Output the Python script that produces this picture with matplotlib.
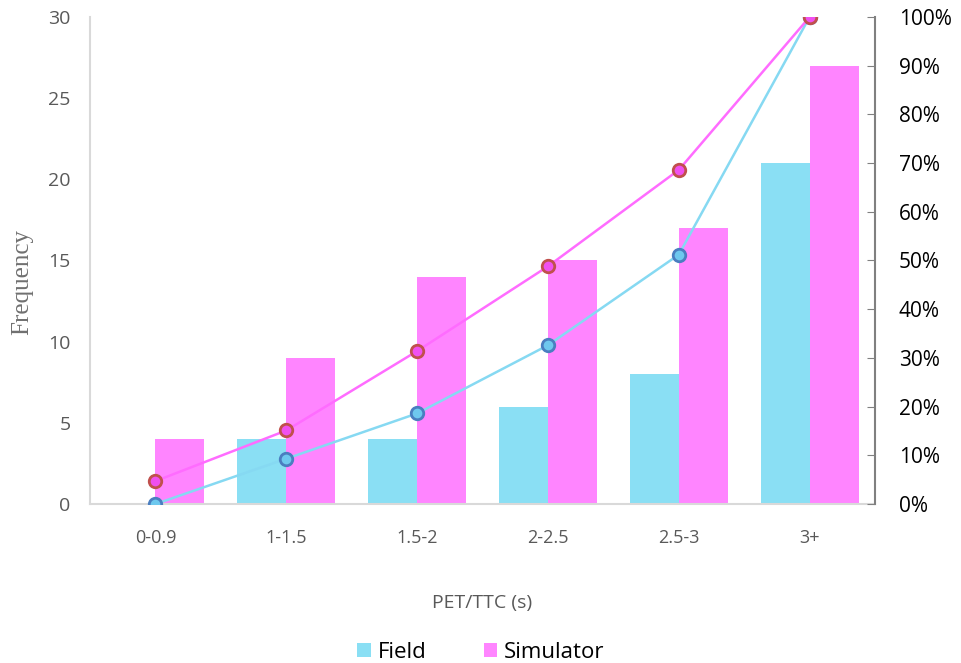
import matplotlib.pyplot as plt
import numpy as np
from matplotlib.ticker import PercentFormatter

categories = ['0-0.9', '1-1.5', '1.5-2', '2-2.5', '2.5-3', '3+']
field = [0, 4, 4, 6, 8, 21]
simulator = [4, 9, 14, 15, 17, 27]
# cumulative share (%)
field_cum = [0, 9.3, 18.6, 32.6, 51.2, 100]
simulator_cum = [4.7, 15.1, 31.4, 48.8, 68.6, 100]

field_color = '#8ADFF4'
sim_color = '#FF85FF'

plt.rcParams['font.family'] = ['Open Sans', 'DejaVu Sans']

fig = plt.figure(figsize=(9.62, 6.63), dpi=100)
ax = fig.add_axes([0.0936, 0.2398, 0.816, 0.7346])
xs = np.arange(len(categories))
w = 0.374

ax.bar(xs - w / 2, field, width=w, color=field_color, label='Field', zorder=2)
ax.bar(xs + w / 2, simulator, width=w, color=sim_color, label='Simulator', zorder=2)

ax.set_xlim(-0.5, len(categories) - 0.5)
ax.set_ylim(0, 30)
ax.set_yticks(range(0, 31, 5))
ax.set_xticks(xs)
ax.set_xticklabels(categories, fontsize=13, color='#595959')
ax.tick_params(axis='y', length=0, labelsize=14, labelcolor='#595959', pad=14)
ax.tick_params(axis='x', length=0, pad=18)
for s in ['top', 'right']:
    ax.spines[s].set_visible(False)
ax.spines['left'].set_color('#D9D9D9')
ax.spines['bottom'].set_color('#D9D9D9')
ax.spines['left'].set_linewidth(1.5)
ax.spines['bottom'].set_linewidth(1.5)

ax.set_ylabel('Frequency', family='Liberation Serif', fontsize=18, color='#707070')
ax.yaxis.set_label_coords(-0.073, 0.455)
ax.set_xlabel('PET/TTC (s)', fontsize=14, color='#595959', labelpad=34)

ax2 = ax.twinx()
ax2.plot(xs, field_cum, color='#86D9F2', lw=1.8, marker='o', markersize=9,
         markerfacecolor='#6EC8EE', markeredgecolor='#4A7EC0', markeredgewidth=2, zorder=3)
ax2.plot(xs, simulator_cum, color='#FF6CFF', lw=1.8, marker='o', markersize=9,
         markerfacecolor='#F050F0', markeredgecolor='#C0504D', markeredgewidth=2, zorder=4)
ax2.set_ylim(0, 100)
ax2.set_yticks(range(0, 101, 10))
ax2.yaxis.set_major_formatter(PercentFormatter(decimals=0))
ax2.tick_params(axis='y', direction='in', length=6, color='#808080', labelsize=15, pad=17)
for s in ['top', 'left', 'bottom']:
    ax2.spines[s].set_visible(False)
ax2.spines['right'].set_color('#808080')
ax2.spines['right'].set_linewidth(1.5)
ax2.set_xlim(-0.5, len(categories) - 0.5)

handles, labels = ax.get_legend_handles_labels()
fig.legend(handles, labels, loc='lower center', bbox_to_anchor=(0.5, -0.03), ncol=2,
           frameon=False, fontsize=16, handlelength=0.6, handleheight=0.6,
           handletextpad=0.3, columnspacing=2.6)

fig.savefig('out.png', dpi=100)
